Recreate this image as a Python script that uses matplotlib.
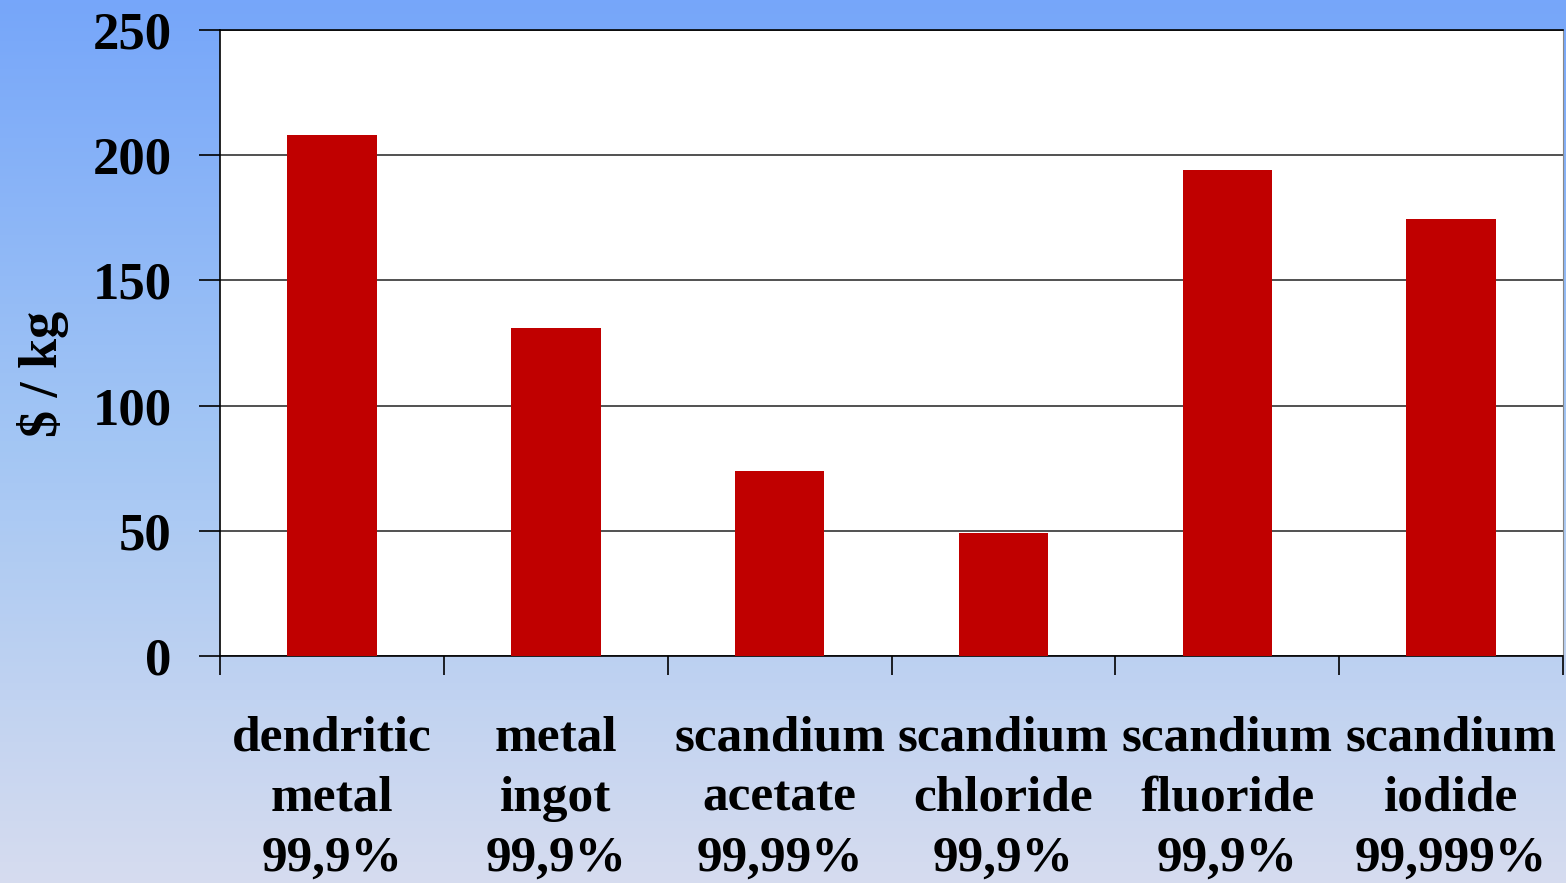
import numpy as np
import matplotlib.pyplot as plt
from matplotlib.colors import LinearSegmentedColormap

# datos
categorias = ["dendritic\nmetal\n99,9%", "metal\ningot\n99,9%", "scandium\nacetate\n99,99%",
              "scandium\nchloride\n99,9%", "scandium\nfluoride\n99,9%", "scandium\niodide\n99,999%"]
precios = [208, 131, 74, 49, 194, 174.5]
y_ticks = [0, 50, 100, 150, 200, 250]

plt.rcParams['font.family'] = ['Liberation Serif', 'DejaVu Serif']
plt.rcParams['font.weight'] = 'bold'

fig = plt.figure(figsize=(15.66, 8.83), dpi=100)

# fondo degradado
bg = fig.add_axes([0, 0, 1, 1], zorder=-10)
grad = np.linspace(0, 1, 256).reshape(-1, 1)
cmap = LinearSegmentedColormap.from_list("fondo", ["#76a6fa", "#a3c6f4", "#d6dcef"])
bg.imshow(grad, aspect='auto', cmap=cmap, extent=[0, 1, 0, 1], origin='upper')
bg.axis('off')

ax = fig.add_axes([0.1405, 0.2571, 0.8576, 0.7089])
ax.set_facecolor('white')

x = np.arange(len(categorias))
ax.bar(x, precios, width=0.4, color='#c00000', zorder=3)

ax.set_xlim(-0.5, len(categorias) - 0.5)
ax.set_ylim(0, 250)
ax.set_yticks(y_ticks)
ax.set_yticklabels([str(v) for v in y_ticks], fontsize=38, fontweight='bold')
ax.tick_params(axis='y', direction='out', length=15, width=1.2, pad=20)

ax.set_xticks(x)
ax.set_xticklabels(categorias, fontsize=37, fontweight='bold', linespacing=1.4)
ax.set_xticks(np.arange(len(categorias) + 1) - 0.5, minor=True)
ax.tick_params(axis='x', which='major', length=0, pad=43)
ax.tick_params(axis='x', which='minor', direction='out', length=14, width=1.2)

ax.yaxis.grid(True, color='#333333', linewidth=1.2, zorder=0)
ax.set_axisbelow(True)

for s in ['left', 'bottom', 'top']:
    ax.spines[s].set_color('black')
    ax.spines[s].set_linewidth(1.2)
ax.spines['right'].set_color('#888888')

ax.set_ylabel("$ / kg", fontsize=39, fontweight='bold', va='center')
ax.yaxis.set_label_coords(-0.132, 0.45)

fig.savefig("out.png", dpi=100)
